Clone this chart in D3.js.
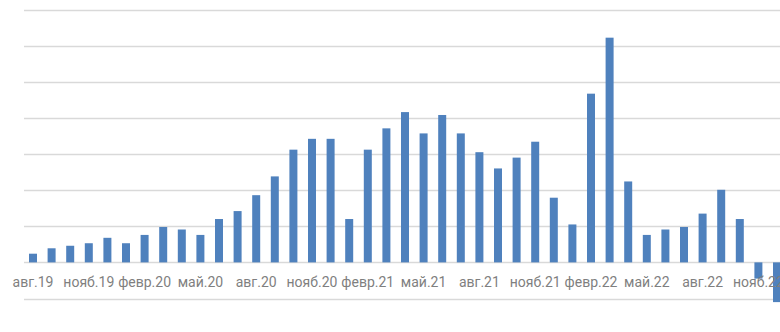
<!DOCTYPE html>
<html>
<head>
<meta charset="utf-8">
<script src="https://cdn.jsdelivr.net/npm/d3@7"></script>
<style>
  html, body { margin: 0; padding: 0; background: #ffffff; }
  svg { display: block; }
</style>
</head>
<body>
<svg id="chart" width="780" height="332"></svg>
<script>
const months = ["авг.19","сент.19","окт.19","нояб.19","дек.19","янв.20","февр.20","март.20","апр.20","май.20","июнь.20","июль.20",
  "авг.20","сент.20","окт.20","нояб.20","дек.20","янв.21","февр.21","март.21","апр.21","май.21","июнь.21","июль.21",
  "авг.21","сент.21","окт.21","нояб.21","дек.21","янв.22","февр.22","март.22","апр.22","май.22","июнь.22","июль.22",
  "авг.22","сент.22","окт.22","нояб.22","дек.22"];
const values = [2.4, 3.9, 4.6, 5.3, 6.8, 5.3, 7.6, 9.8, 9.1, 7.6, 12.0, 14.2,
  18.6, 23.8, 31.2, 34.2, 34.2, 12.0, 31.2, 37.1, 41.6, 35.7, 40.8, 35.7,
  30.5, 26.0, 29.0, 33.4, 17.9, 10.5, 46.7, 62.2, 22.4, 7.6, 9.1, 9.8,
  13.5, 20.1, 12.0, -4.5, -11.0];
const gridValues = [-10, 0, 10, 20, 30, 40, 50, 60, 70];
const tickLabels = months.filter((d, i) => i % 3 === 0);

const svg = d3.select("#chart");
const step = 18.6;
const x0 = 23.7;
const x = d3.scaleBand()
  .domain(months)
  .range([x0, x0 + months.length * step])
  .paddingInner(0.57)
  .paddingOuter(0.285);
const y = d3.scaleLinear().domain([-10, 70]).range([298.5, 9.5]);

// gridlines
svg.append("g").selectAll("line")
  .data(gridValues)
  .join("line")
  .attr("x1", 24).attr("x2", 780)
  .attr("y1", d => Math.round(y(d)) + 0.5)
  .attr("y2", d => Math.round(y(d)) + 0.5)
  .attr("stroke", "#d9d9d9")
  .attr("stroke-width", 1.6);

// bars
svg.append("g").selectAll("rect")
  .data(months.map((m, i) => ({ m, v: values[i] })))
  .join("rect")
  .attr("x", d => x(d.m))
  .attr("width", x.bandwidth())
  .attr("y", d => y(Math.max(0, d.v)))
  .attr("height", d => Math.abs(y(d.v) - y(0)))
  .attr("fill", "#4f81bd");

// category labels
const axis = d3.axisBottom(x).tickValues(tickLabels).tickSize(0).tickPadding(0);
const gAxis = svg.append("g").attr("transform", "translate(0,277.5)").call(axis);
gAxis.select(".domain").remove();
gAxis.selectAll("text")
  .attr("dy", "0.71em")
  .attr("y", 0)
  .style("font-family", "Roboto, 'Noto Sans', sans-serif")
  .style("font-size", "14px")
  .attr("fill", "#7f7f7f");
</script>
</body>
</html>
